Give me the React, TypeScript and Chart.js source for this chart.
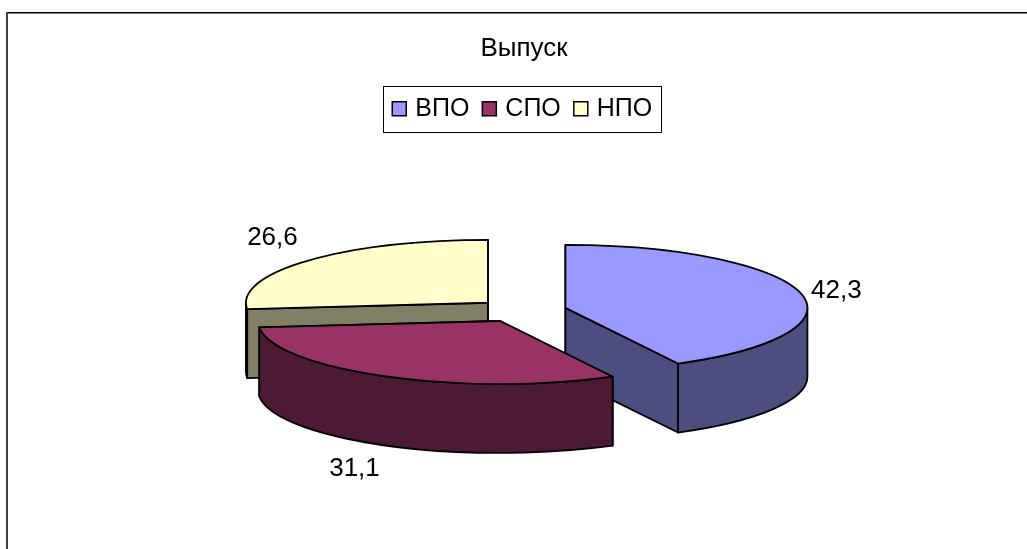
import React, { useEffect, useRef } from "react";
import { Chart, registerables } from "chart.js";

Chart.register(...registerables);

const categories = ["ВПО", "СПО", "НПО"];
const values = [42.3, 31.1, 26.6];
const valueLabels = ["42,3", "31,1", "26,6"];
const topColors = ["#9999FF", "#993366", "#FFFFCC"];
const sideColors = ["#4D4D80", "#4D1A33", "#808066"];
const chartTitle = "Выпуск";
const FONT = '"Liberation Sans", Arial, sans-serif';

const RADIUS = 242;
const SQUASH = 0.26;
const DEPTH = 69;
const EXPLODE = 0.187;
const PIE_SHIFT_X = -2.5;
// label anchor shift from the slice rim point (px)
const labelShift: [number, number][] = [
  [36, -2],
  [-31, 92],
  [-36, -23],
];

const pie3d = {
  id: "pie3d",
  beforeDraw(chart: any) {
    const c = chart.ctx;
    c.save();
    c.fillStyle = "#fff";
    c.fillRect(0, 0, chart.width, chart.height);
    c.fillStyle = "#000";
    c.fillRect(6, 12, chart.width - 6, 1.5);
    c.fillStyle = "#404040";
    c.fillRect(6, 12, 2, chart.height - 12);
    c.restore();
  },
  afterDraw(chart: any) {
    // legend frame around Chart.js's own legend items
    const boxes = chart.legend.legendHitBoxes;
    const first = boxes[0];
    const last = boxes[boxes.length - 1];
    const c = chart.ctx;
    c.save();
    c.strokeStyle = "#000";
    c.lineWidth = 1;
    c.strokeRect(
      Math.round(first.left - 13) + 0.5,
      Math.round(first.top - 10) + 0.5,
      Math.round(last.left + last.width + 8 - (first.left - 13)),
      46
    );
    c.restore();
  },
  beforeDatasetsDraw(chart: any) {
    const c = chart.ctx;
    const arcs = chart.getDatasetMeta(0).data;
    const ry = (r: number) => r * SQUASH;
    const order = [2, 0, 1];
    for (const i of order) {
      const a = arcs[i];
      const s = a.startAngle;
      const e = a.endAngle;
      const R = a.outerRadius;
      const mid = (s + e) / 2;
      const cx = a.x + PIE_SHIFT_X + EXPLODE * R * Math.cos(mid);
      const cy = a.y + EXPLODE * ry(R) * Math.sin(mid);
      c.save();
      c.strokeStyle = "#000";
      c.lineWidth = 1.8;
      c.lineJoin = "round";
      c.fillStyle = sideColors[i];
      for (const ang of [s, e]) {
        const px = cx + R * Math.cos(ang);
        const py = cy + ry(R) * Math.sin(ang);
        c.beginPath();
        c.moveTo(cx, cy);
        c.lineTo(px, py);
        c.lineTo(px, py + DEPTH);
        c.lineTo(cx, cy + DEPTH);
        c.closePath();
        c.fill();
        c.stroke();
      }
      const a0 = Math.max(s, 0);
      const a1 = Math.min(e, Math.PI);
      if (a1 > a0) {
        c.beginPath();
        c.ellipse(cx, cy, R, ry(R), 0, a0, a1);
        c.ellipse(cx, cy + DEPTH, R, ry(R), 0, a1, a0, true);
        c.closePath();
        c.fill();
        c.stroke();
      }
      c.fillStyle = topColors[i];
      c.beginPath();
      c.moveTo(cx, cy);
      c.ellipse(cx, cy, R, ry(R), 0, s, e);
      c.closePath();
      c.fill();
      c.stroke();
      c.restore();
    }
    c.save();
    c.font = `26px ${FONT}`;
    c.fillStyle = "#000";
    c.textAlign = "center";
    c.textBaseline = "middle";
    arcs.forEach((a: any, i: number) => {
      const R = a.outerRadius;
      const mid = (a.startAngle + a.endAngle) / 2;
      const cx = a.x + PIE_SHIFT_X + EXPLODE * R * Math.cos(mid);
      const cy = a.y + EXPLODE * ry(R) * Math.sin(mid);
      c.fillText(
        valueLabels[i],
        cx + R * Math.cos(mid) + labelShift[i][0],
        cy + ry(R) * Math.sin(mid) + labelShift[i][1]
      );
    });
    c.restore();
    return false;
  },
};

export default function App() {
  const ref = useRef<HTMLCanvasElement>(null);
  useEffect(() => {
    const chart = new Chart(ref.current!, {
      type: "pie",
      data: {
        labels: categories,
        datasets: [
          {
            data: values,
            backgroundColor: topColors,
            borderColor: "#000",
            borderWidth: 1.5,
          },
        ],
      },
      options: {
        animation: false,
        responsive: false,
        radius: RADIUS,
        layout: { padding: { top: 20, bottom: 59, left: 21, right: 0 } },
        plugins: {
          title: {
            display: true,
            text: chartTitle,
            color: "#000",
            font: { family: FONT, size: 26, weight: "normal" },
            padding: { top: 13, bottom: 15.6 },
          },
          legend: {
            display: true,
            position: "top",
            labels: {
              color: "#000",
              font: { family: FONT, size: 25 },
              boxWidth: 7,
              boxHeight: 14,
              usePointStyle: true,
              pointStyle: "rect",
              padding: 16.5,
            },
          },
          tooltip: { enabled: false },
        },
      } as any,
      plugins: [pie3d as any],
    });
    return () => chart.destroy();
  }, []);
  return (
    <canvas
      ref={ref}
      width={1027}
      height={549}
      style={{ position: "absolute", left: 0, top: 0, display: "block" }}
    />
  );
}
